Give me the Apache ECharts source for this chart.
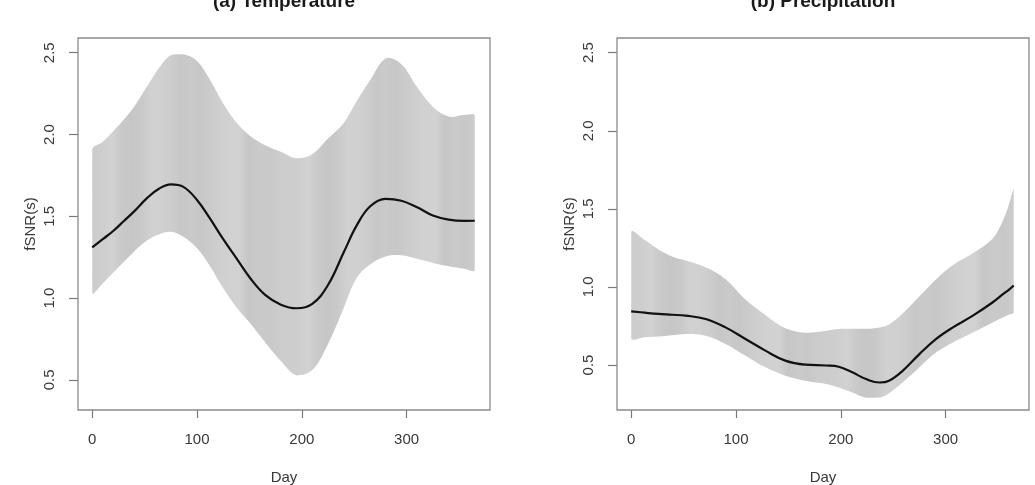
<!DOCTYPE html>
<html>
<head>
<meta charset="utf-8">
<script src="https://cdn.jsdelivr.net/npm/echarts@6/dist/echarts.min.js"></script>
<style>
html,body{margin:0;padding:0;background:#fff;}
#chart{width:1035px;height:485px;}
</style>
</head>
<body>
<div id="chart"></div>
<script>
// ---------- data ----------
const panelTitles = ['(a) Temperature', '(b) Precipitation'];
const xTickValues = [0, 100, 200, 300];
const yTickValues = [0.5, 1.0, 1.5, 2.0, 2.5];

const tempDays  = [0, 10, 20, 30, 40, 52, 64, 75, 87, 100, 112, 125, 138, 151, 165, 180, 195, 210, 225, 240, 252, 265, 280, 295, 310, 325, 340, 355, 365];
const tempMean  = [1.31, 1.36, 1.41, 1.47, 1.53, 1.61, 1.67, 1.695, 1.68, 1.60, 1.49, 1.36, 1.24, 1.12, 1.02, 0.96, 0.938, 0.965, 1.08, 1.28, 1.44, 1.56, 1.607, 1.595, 1.555, 1.505, 1.48, 1.472, 1.473];
const tempUpper = [1.91, 1.955, 2.02, 2.09, 2.17, 2.29, 2.41, 2.485, 2.49, 2.45, 2.34, 2.19, 2.07, 1.99, 1.935, 1.895, 1.855, 1.88, 1.975, 2.07, 2.20, 2.33, 2.465, 2.43, 2.29, 2.17, 2.11, 2.12, 2.115];
const tempLower = [1.033, 1.09, 1.155, 1.22, 1.285, 1.35, 1.39, 1.405, 1.375, 1.305, 1.20, 1.06, 0.94, 0.845, 0.73, 0.615, 0.527, 0.56, 0.72, 0.94, 1.12, 1.205, 1.255, 1.262, 1.24, 1.215, 1.195, 1.18, 1.172];

const precDays  = [0, 13, 26, 39, 52, 71, 90, 109, 128, 147, 166, 186, 198, 211, 224, 237, 246, 259, 275, 291, 307, 326, 345, 355, 360, 365];
const precMean  = [0.844, 0.835, 0.827, 0.822, 0.816, 0.795, 0.741, 0.667, 0.592, 0.528, 0.502, 0.497, 0.489, 0.453, 0.41, 0.388, 0.399, 0.463, 0.57, 0.667, 0.741, 0.816, 0.902, 0.955, 0.98, 1.009];
const precUpper = [1.351, 1.30, 1.24, 1.195, 1.169, 1.126, 1.05, 0.92, 0.82, 0.735, 0.707, 0.72, 0.731, 0.733, 0.732, 0.741, 0.76, 0.83, 0.94, 1.05, 1.14, 1.215, 1.31, 1.43, 1.52, 1.63];
const precLower = [0.673, 0.678, 0.682, 0.69, 0.699, 0.688, 0.635, 0.56, 0.485, 0.431, 0.399, 0.378, 0.356, 0.324, 0.29, 0.292, 0.32, 0.388, 0.485, 0.581, 0.645, 0.709, 0.773, 0.806, 0.822, 0.838];

// ---------- styling ----------
const FONT = '"Liberation Sans", Arial, Helvetica, sans-serif';
const TEXT = '#383838';
const stripeShades = ['#cdcdcd','#c9c9c9','#d1d1d1','#c7c7c7','#cbcbcb','#d2d2d2','#c8c8c8','#cecece','#c6c6c6','#d0d0d0','#cacaca','#cfcfcf','#c6c6c6','#cccccc','#d2d2d2','#c9c9c9','#cdcdcd','#c7c7c7','#d1d1d1','#cacaca'];
function stripes() {
  const n = 40, stops = [];
  for (let i = 0; i < n; i++) stops.push({offset: i / (n - 1), color: stripeShades[(i * 7) % stripeShades.length]});
  return new echarts.graphic.LinearGradient(0, 0, 1, 0, stops);
}

const grids = [
  {left: 78, top: 38, width: 412, height: 372},
  {left: 617, top: 38, width: 412, height: 372}
];
const yRanges = [[0.316, 2.59], [0.212, 2.594]];

function zip(a, b) { return a.map((v, i) => [v, b[i]]); }

function xAxis(i) {
  return {
    gridIndex: i, type: 'value', min: -13.56, max: 379.56,
    axisLine: {show: false, onZero: false}, splitLine: {show: false},
    axisTick: {show: true, length: 8, customValues: xTickValues, lineStyle: {color: '#7a7a7a', width: 1.2}},
    axisLabel: {customValues: xTickValues, margin: 22, fontSize: 15, color: TEXT, fontFamily: FONT},
    name: 'Day', nameLocation: 'middle', nameGap: 60, nameMoveOverlap: false,
    nameTextStyle: {fontSize: 15, color: TEXT, fontFamily: FONT}
  };
}
function yAxis(i) {
  return {
    gridIndex: i, type: 'value', min: yRanges[i][0], max: yRanges[i][1],
    axisLine: {show: false, onZero: false}, splitLine: {show: false},
    axisTick: {show: true, length: 9, customValues: yTickValues, lineStyle: {color: '#7a7a7a', width: 1.2}},
    axisLabel: {customValues: yTickValues, rotate: 90, margin: 21, fontSize: 15, color: TEXT, fontFamily: FONT,
      formatter: v => v.toFixed(1)},
    name: 'fSNR(s)', nameLocation: 'middle', nameRotate: 90, nameGap: 40, nameMoveOverlap: false,
    nameTextStyle: {fontSize: 15, color: TEXT, fontFamily: FONT}
  };
}

function bandSeries(i, days, lower, upper) {
  return {
    type: 'custom', xAxisIndex: i, yAxisIndex: i, silent: true, z: 1,
    data: days.map((d, k) => [d, lower[k], upper[k]]),
    encode: {x: 0, y: [1, 2]},
    renderItem: function (params, api) {
      if (params.dataIndex !== 0) return null;
      const pts = [];
      for (let k = 0; k < days.length; k++) pts.push(api.coord([days[k], upper[k]]));
      for (let k = days.length - 1; k >= 0; k--) pts.push(api.coord([days[k], lower[k]]));
      let x0 = Infinity, y0 = Infinity, x1 = -Infinity, y1 = -Infinity;
      pts.forEach(p => { x0 = Math.min(x0, p[0]); x1 = Math.max(x1, p[0]); y0 = Math.min(y0, p[1]); y1 = Math.max(y1, p[1]); });
      return {
        type: 'polygon',
        shape: {points: pts, smooth: 0.35, smoothConstraint: [[x0, y0], [x1, y1]]},
        style: {fill: stripes(), stroke: null}
      };
    }
  };
}
function meanSeries(i, days, mean) {
  return {type: 'line', xAxisIndex: i, yAxisIndex: i, smooth: 0.4, symbol: 'none',
    lineStyle: {color: '#111111', width: 2.2}, data: zip(days, mean), z: 3};
}

const chart = echarts.init(document.getElementById('chart'), null, {renderer: 'canvas'});
chart.setOption({
  animation: false,
  backgroundColor: '#ffffff',
  grid: grids.map(g => Object.assign({show: true, borderColor: '#8a8a8a', borderWidth: 1.3, backgroundColor: 'transparent',
    containLabel: false, outerBoundsMode: 'none', z: 4}, g)),
  xAxis: [xAxis(0), xAxis(1)],
  yAxis: [yAxis(0), yAxis(1)],
  graphic: panelTitles.map((t, i) => ({
    type: 'text', x: grids[i].left + grids[i].width / 2, y: 2,
    style: {text: t, align: 'center', verticalAlign: 'middle', fontSize: 19, fontWeight: 'bold', fontFamily: FONT, fill: '#1a1a1a'}
  })),
  series: [
    bandSeries(0, tempDays, tempLower, tempUpper),
    meanSeries(0, tempDays, tempMean),
    bandSeries(1, precDays, precLower, precUpper),
    meanSeries(1, precDays, precMean)
  ]
});
</script>
</body>
</html>
